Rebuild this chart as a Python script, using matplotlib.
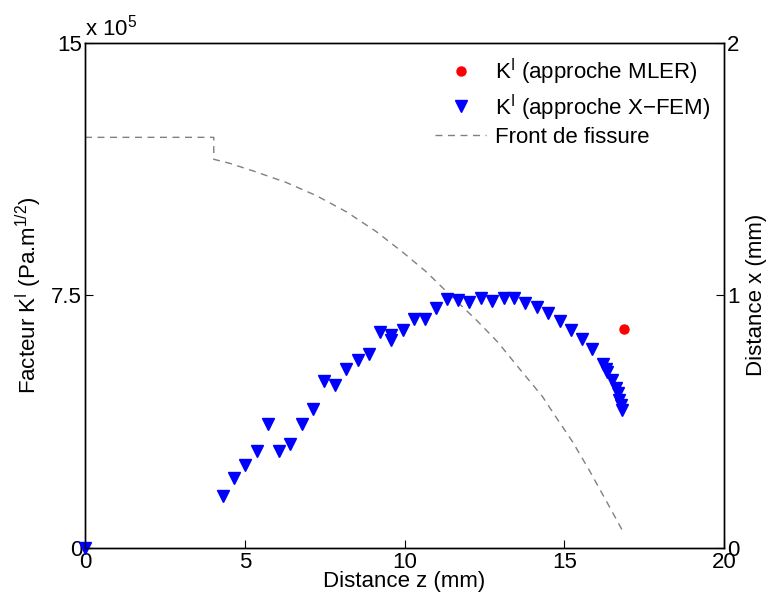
import matplotlib.pyplot as plt
from matplotlib.lines import Line2D

plt.rcParams['font.family'] = ['Liberation Sans', 'DejaVu Sans']
plt.rcParams['mathtext.default'] = 'regular'

# K^I from the X-FEM approach (units of 1e5 Pa.m^1/2) along the front
z_xfem = [0, 4.32, 4.67, 5.02, 5.38, 5.73, 6.07, 6.43, 6.78, 7.14, 7.49, 7.83,
          8.18, 8.53, 8.88, 9.22, 9.58, 9.58, 9.94, 10.29, 10.65, 10.99, 11.33,
          11.69, 12.03, 12.40, 12.74, 13.10, 13.44, 13.78, 14.15, 14.50, 14.87,
          15.21, 15.55, 15.88, 16.20, 16.30, 16.35, 16.51, 16.62, 16.67, 16.72,
          16.77, 16.82]
k_xfem = [0, 1.53, 2.08, 2.45, 2.87, 3.67, 2.87, 3.07, 3.67, 4.11, 4.95, 4.83,
          5.32, 5.57, 5.75, 6.41, 6.31, 6.16, 6.48, 6.80, 6.78, 7.11, 7.38,
          7.36, 7.31, 7.41, 7.34, 7.41, 7.41, 7.28, 7.14, 6.96, 6.73,
          6.46, 6.21, 5.89, 5.47, 5.32, 5.22, 4.97, 4.73, 4.58, 4.38,
          4.23, 4.10]

# K^I from the MLER approach
z_mler = [16.88]
k_mler = [6.50]

# crack front shape (distance x in mm vs z)
z_front = [0, 4.03, 4.03, 4.53, 5.33, 6.30, 7.24, 8.18, 9.12, 9.95, 10.68,
           11.41, 12.24, 12.92, 13.59, 14.32, 14.63, 15.26, 15.78, 16.30, 16.87]
x_front = [1.626, 1.626, 1.539, 1.523, 1.490, 1.447, 1.395, 1.331, 1.252,
           1.170, 1.093, 1.003, 0.903, 0.814, 0.710, 0.598, 0.538, 0.419,
           0.307, 0.188, 0.056]

fig = plt.figure(figsize=(7.68, 6.02), dpi=100)
ax = fig.add_axes([85 / 768, 54.5 / 602, 639 / 768, 504.5 / 602])
ax2 = ax.twinx()

ax2.plot(z_front, x_front, linestyle=(0, (5, 4)), color='#808080', lw=1.0)
ax.plot(z_mler, k_mler, 'o', color='red', ms=6.5, mec='red')
ax.plot(z_xfem, k_xfem, 'v', color='blue', ms=8.5, mec='blue', clip_on=False)

ax.set_zorder(ax2.get_zorder() + 1)
ax.patch.set_visible(False)

ax.set_xlim(0, 20)
ax.set_ylim(0, 15)
ax2.set_ylim(0, 2)
ax.set_xticks([0, 5, 10, 15, 20])
ax.set_yticks([0, 7.5, 15])
ax.set_yticklabels(['0', '7.5', '15'])
ax2.set_yticks([0, 1, 2])

fs = 16
for a in (ax, ax2):
    a.tick_params(direction='in', length=6, width=0.8, labelsize=fs, pad=2)
    for s in a.spines.values():
        s.set_linewidth(1.0)
ax.tick_params(axis='x', pad=3)

ax.set_xlabel('Distance z (mm)', fontsize=fs, labelpad=-1)
ax.set_ylabel('Facteur K$^I$ (Pa.m$^{1/2}$)', fontsize=fs, labelpad=5)
ax2.set_ylabel('Distance x (mm)', fontsize=fs, labelpad=5)

ax.text(0.0, 1.005, 'x 10$^5$', transform=ax.transAxes, fontsize=fs,
        ha='left', va='bottom')

handles = [
    Line2D([], [], marker='o', color='red', ls='none', ms=6.5),
    Line2D([], [], marker='v', color='blue', ls='none', ms=8.5),
    Line2D([], [], color='#808080', ls=(0, (5, 4)), lw=1.0),
]
labels = ['K$^I$ (approche MLER)', 'K$^I$ (approche X\u2212FEM)', 'Front de fissure']
ax.legend(handles, labels, loc='upper right', frameon=False, fontsize=fs,
          handlelength=2.3, handletextpad=0.4, labelspacing=0.2,
          borderaxespad=0.2, bbox_to_anchor=(1.0, 1.0))

fig.savefig('out.png', dpi=100)
